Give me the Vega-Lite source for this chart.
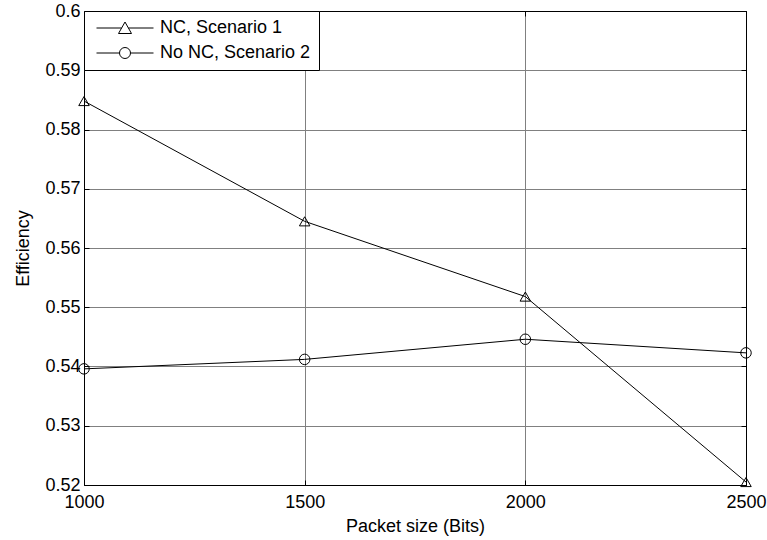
{
  "$schema": "https://vega.github.io/schema/vega-lite/v6.json",
  "autosize": {"type": "none"},
  "padding": {"left": 84, "top": 11, "right": 21, "bottom": 55},
  "width": 662,
  "height": 474,
  "background": "white",
  "config": {
    "font": "Liberation Sans",
    "view": {"stroke": "black", "strokeWidth": 1}
  },
  "data": {
    "values": [
      {"size": 1000, "eff": 0.5848, "series": "NC, Scenario 1"},
      {"size": 1500, "eff": 0.5645, "series": "NC, Scenario 1"},
      {"size": 2000, "eff": 0.5518, "series": "NC, Scenario 1"},
      {"size": 2500, "eff": 0.5205, "series": "NC, Scenario 1"},
      {"size": 1000, "eff": 0.5396, "series": "No NC, Scenario 2"},
      {"size": 1500, "eff": 0.5412, "series": "No NC, Scenario 2"},
      {"size": 2000, "eff": 0.5446, "series": "No NC, Scenario 2"},
      {"size": 2500, "eff": 0.5423, "series": "No NC, Scenario 2"}
    ]
  },
  "layer": [
    {
      "mark": {"type": "line", "strokeWidth": 1},
      "encoding": {
        "x": {
          "field": "size", "type": "quantitative",
          "scale": {"domain": [1000, 2500], "nice": false, "zero": false},
          "axis": {
            "title": "Packet size (Bits)", "titleFontSize": 18, "titleFontWeight": "normal", "titleColor": "black", "titlePadding": 6,
            "values": [1000, 1500, 2000, 2500], "format": "d", "labelFlush": false,
            "labelFontSize": 18, "labelColor": "black", "labelPadding": 13,
            "tickSize": -5, "tickColor": "black", "domainColor": "black",
            "grid": true, "gridColor": "#808080", "gridWidth": 1
          }
        },
        "y": {
          "field": "eff", "type": "quantitative",
          "scale": {"domain": [0.52, 0.6], "nice": false, "zero": false},
          "axis": {
            "title": "Efficiency", "titleFontSize": 18, "titleFontWeight": "normal", "titleColor": "black", "titlePadding": 12,
            "values": [0.52, 0.53, 0.54, 0.55, 0.56, 0.57, 0.58, 0.59, 0.6], "format": ".2~f", "labelFlush": false,
            "labelFontSize": 18, "labelColor": "black", "labelPadding": 9,
            "tickSize": -5, "tickColor": "black", "domainColor": "black",
            "grid": true, "gridColor": "#808080", "gridWidth": 1
          }
        },
        "color": {
          "field": "series", "type": "nominal",
          "scale": {"domain": ["NC, Scenario 1", "No NC, Scenario 2"], "range": ["black", "black"]},
          "legend": {
            "title": null, "orient": "top-left", "offset": 0,
            "strokeColor": "black", "fillColor": "white", "padding": 8,
            "labelFontSize": 18, "labelColor": "black", "labelLimit": 400,
            "symbolSize": 100, "symbolStrokeWidth": 1,
            "symbolOffset": 24, "labelOffset": 26, "rowPadding": 7,
            "encoding": {
              "symbols": {
                "shape": {"value": {"expr": "datum.value === 'NC, Scenario 1' ? 'M-5.7,0L-0.68,0M0.68,0L5.7,0M-1.3,1.1L0,-1.2L1.3,1.1Z' : 'M-5.7,0L-1.1,0M1.1,0L5.7,0M-1.1,0A1.1,1.1 0 1,1 1.1,0A1.1,1.1 0 1,1 -1.1,0Z'"}}
              }
            }
          }
        }
      }
    },
    {
      "mark": {"type": "point", "filled": false, "color": "black", "strokeWidth": 1, "size": 110, "opacity": 1},
      "encoding": {
        "x": {"field": "size", "type": "quantitative",
          "axis": {"orient": "top", "labels": false, "title": null, "grid": false, "values": [1000, 1500, 2000, 2500], "tickSize": -5, "tickColor": "black", "domainColor": "black"}},
        "y": {"field": "eff", "type": "quantitative",
          "axis": {"orient": "right", "labels": false, "title": null, "grid": false, "values": [0.52, 0.53, 0.54, 0.55, 0.56, 0.57, 0.58, 0.59, 0.6], "tickSize": -5, "tickColor": "black", "domainColor": "black"}},
        "shape": {
          "field": "series", "type": "nominal",
          "scale": {"domain": ["No NC, Scenario 2", "NC, Scenario 1"], "range": ["circle", "triangle-up"]},
          "legend": null
        }
      }
    }
  ],
  "resolve": {"axis": {"x": "independent", "y": "independent"}}
}
